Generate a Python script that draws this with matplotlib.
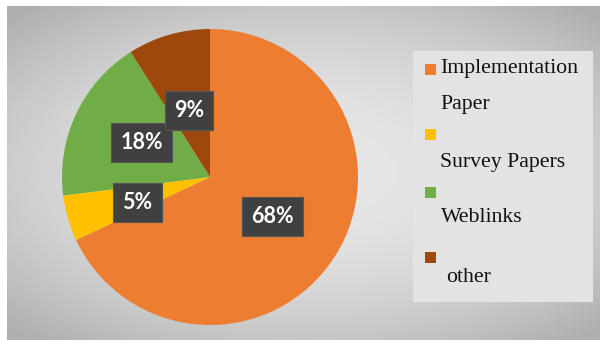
import numpy as np
import matplotlib
matplotlib.use("Agg")
import matplotlib.pyplot as plt
from matplotlib.patches import Rectangle

categories = ["Implementation\nPaper", "Survey Papers", "Weblinks", "other"]
shares = [68, 5, 18, 9]
colors = ["#ED7D31", "#FFC000", "#70AD47", "#9E480E"]

W, H = 605, 346
fig = plt.figure(figsize=(W / 100, H / 100), dpi=100)
fig.patch.set_facecolor("white")

# grey radial-gradient background panel
bg = fig.add_axes([7 / W, 6 / H, 593 / W, 334 / H])
yy, xx = np.mgrid[-1:1:200j, -1:1:300j]
r = np.sqrt((xx * 0.9) ** 2 + (yy * 1.0) ** 2)
shade = 0.905 - 0.13 * np.clip(r, 0, 1.3) ** 2
bg.imshow(shade, cmap="gray", vmin=0, vmax=1, aspect="auto",
          extent=[0, 1, 0, 1], interpolation="bilinear")
bg.set_axis_off()

# legend panel
bg.add_patch(Rectangle((406 / 593, (340 - 302) / 334), 180 / 593, 251 / 334,
                       transform=bg.transAxes, facecolor="#E3E3E3",
                       edgecolor="none", zorder=3))

ax = fig.add_axes([62 / W, 21 / H, 296 / W, 296 / H])
wedges, texts, autotexts = ax.pie(
    shares, colors=colors, startangle=90, counterclock=False,
    autopct="%d%%", pctdistance=0.5,
    wedgeprops=dict(linewidth=0),
    textprops=dict(color="white", fontsize=15.5, fontweight="bold",
                   family="Lato"))
for t in autotexts:
    t.set_bbox(dict(boxstyle="square,pad=0.42", facecolor="#404040",
                    edgecolor="#555555", linewidth=0.8))
# small nudges so the boxes sit where the original has them
offsets = [(0.0, 0.0), (-0.01, -0.03), (-0.01, 0.02), (0.0, -0.03)]
for t, (dx, dy) in zip(autotexts, offsets):
    x, y = t.get_position()
    t.set_position((x + dx, y + dy))
ax.set_xlim(-1, 1)
ax.set_ylim(-1, 1)
ax.set_aspect("equal")
ax.set_axis_off()

# custom legend (marker above label, as in the original)
serif = "Liberation Serif"
marker_y = [70, 135, 193, 258]
text_y = [[68, 105], [162], [218], [277]]
text_x = [440, 440, 441, 446]
for i, lab in enumerate(categories):
    fig.patches.append(Rectangle(((425) / W, (H - marker_y[i] - 5) / H),
                                 11 / W, 11 / H, transform=fig.transFigure,
                                 facecolor=colors[i], edgecolor="none"))
    lines = lab.split("\n")
    for j, line in enumerate(lines):
        fig.text(text_x[i] / W, (H - text_y[i][j]) / H, line,
                 fontsize=15.7, family=serif, color="#111111",
                 ha="left", va="center")

fig.savefig("out.png", dpi=100)
